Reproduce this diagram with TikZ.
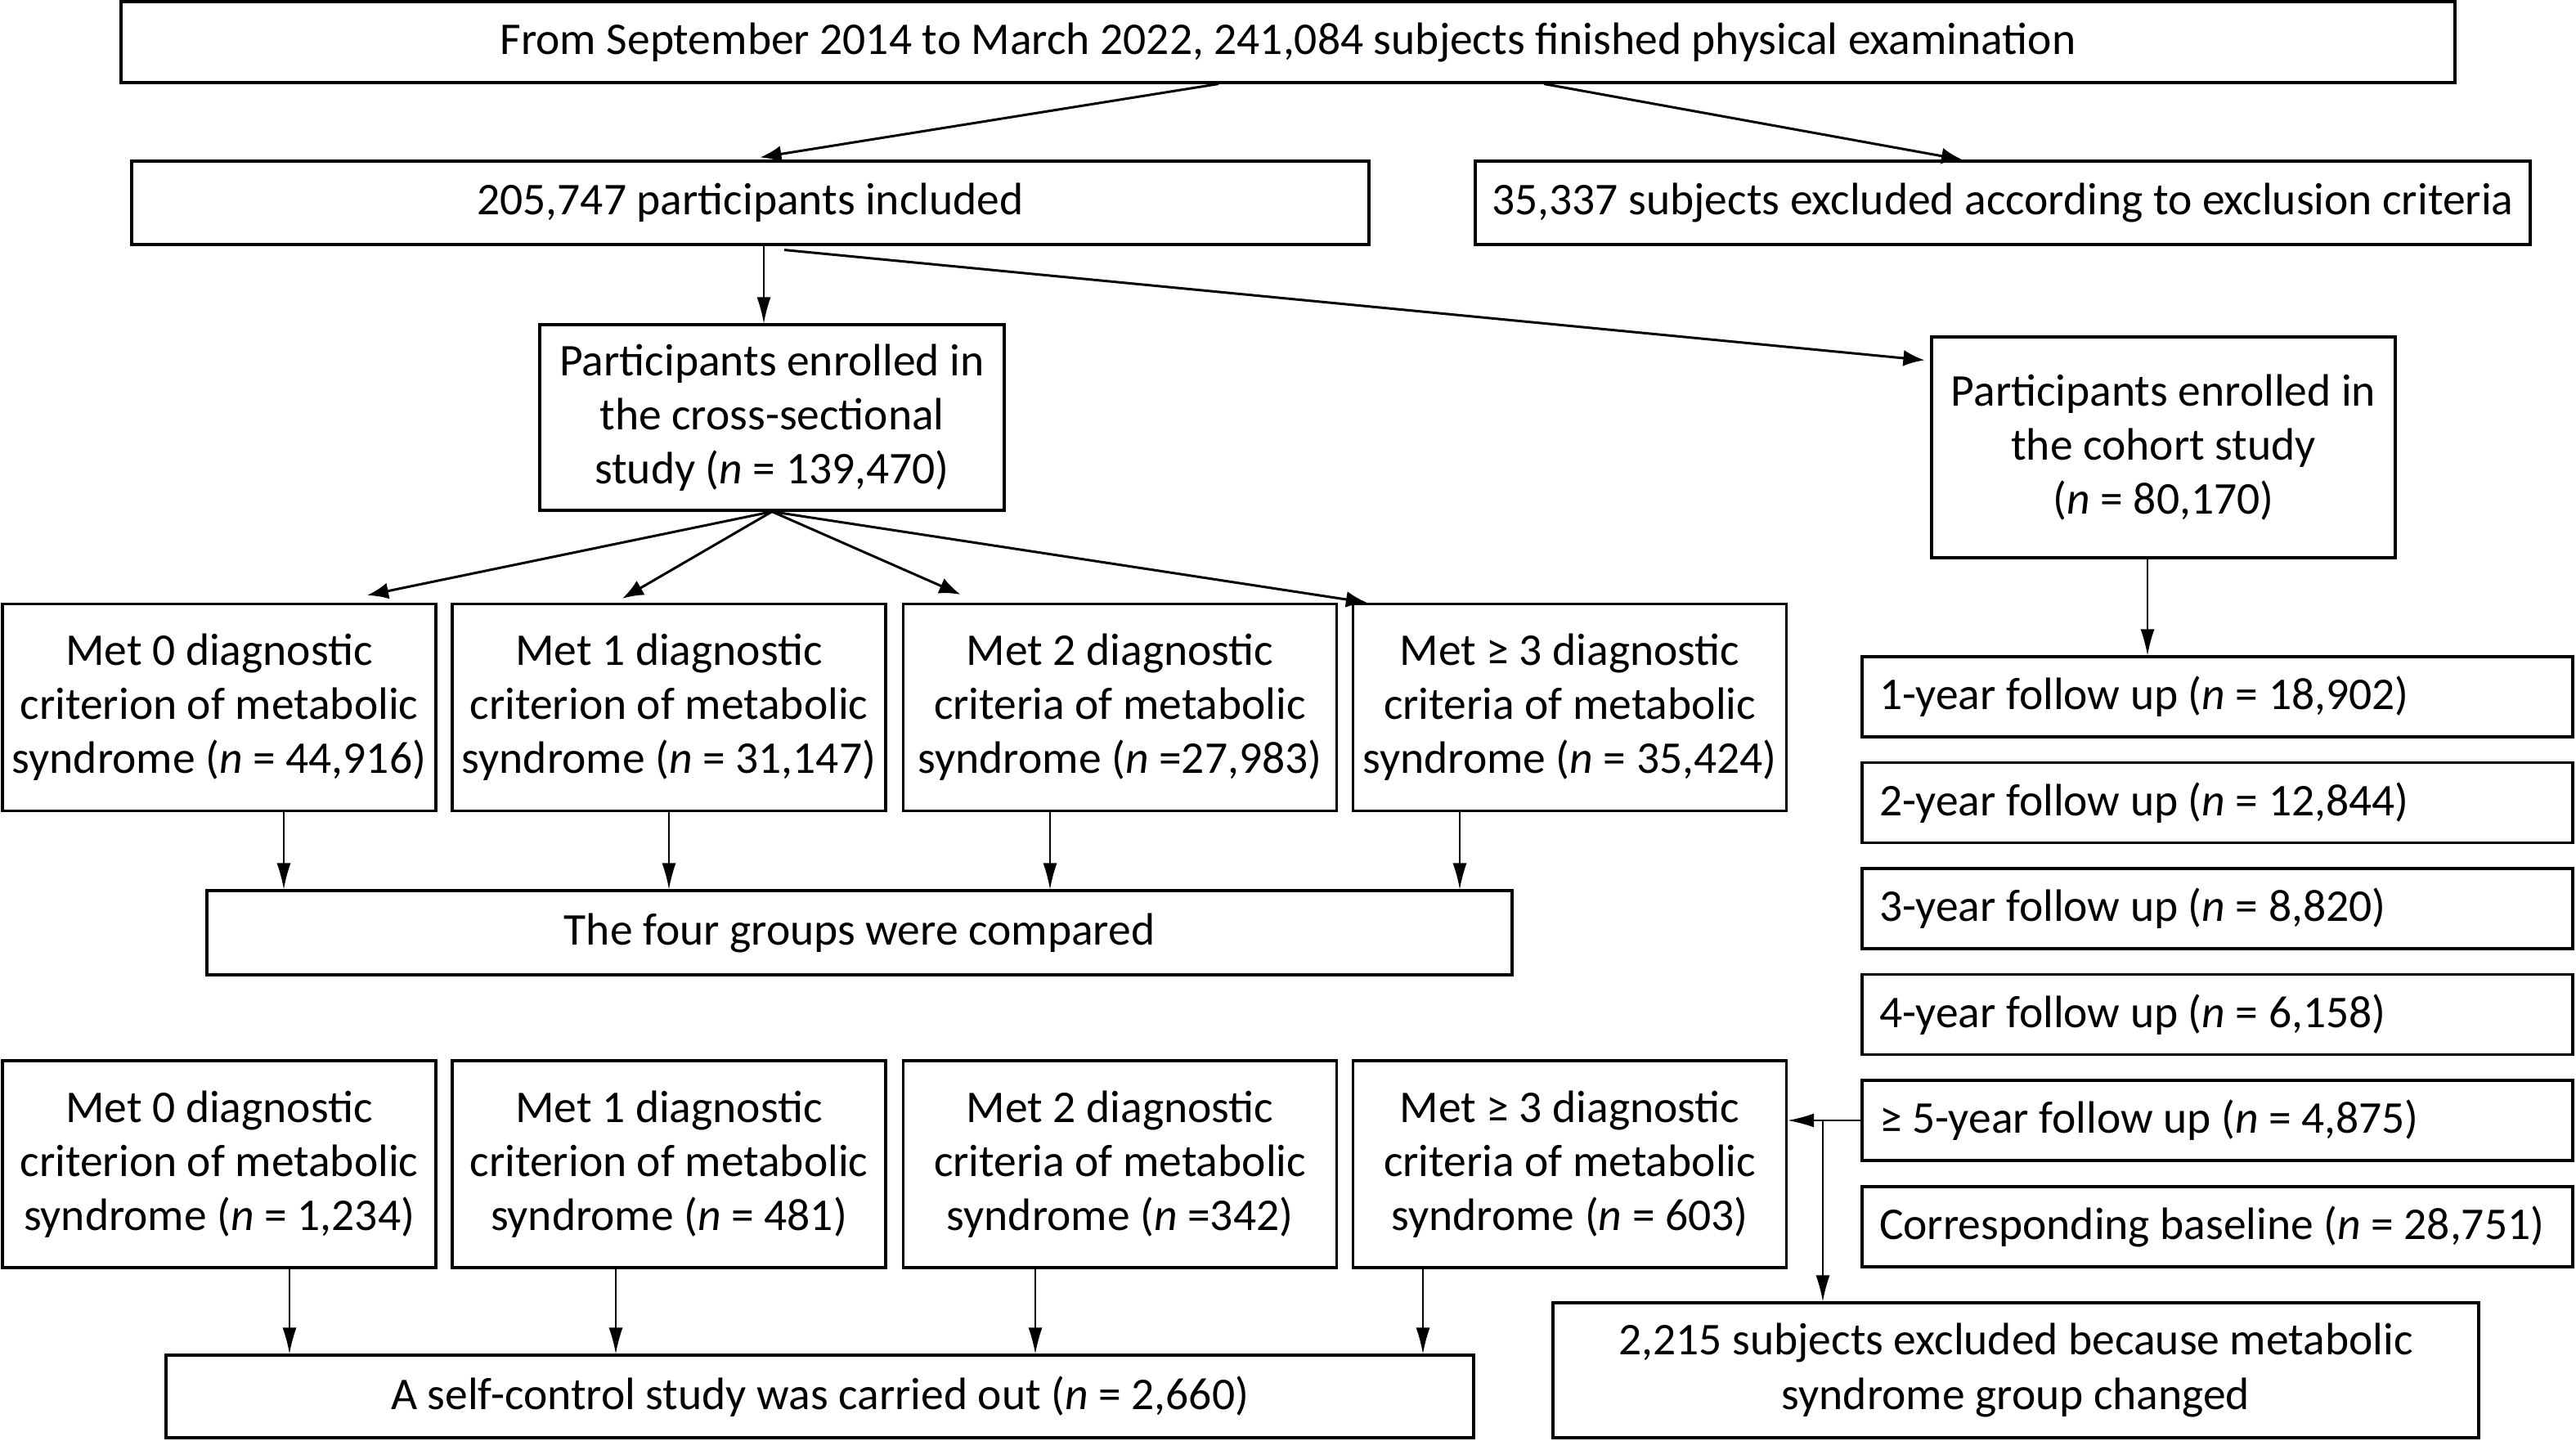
\documentclass[tikz,border=0pt]{standalone}
\usepackage{fontspec}
\setmainfont{Carlito}
\usetikzlibrary{arrows.meta,calc}
\begin{document}
\begin{tikzpicture}[
	box/.style={draw,line width=0.9pt,align=center,inner sep=0pt,font=\fontsize{15.8}{18.8}\selectfont},
	grp/.style={box,minimum width=5.3cm,minimum height=2.53cm},
	fup/.style={box,align=flush left,inner xsep=0.21cm,text width=8.27cm,minimum height=0.98cm},
	arr/.style={line width=0.85pt,-{Latex[length=0.26cm,width=0.2cm]}},
	vline/.style={line width=0.45pt,-{Latex[length=0.32cm,width=0.17cm]}}]
	\useasboundingbox (0,0) rectangle (31.5,-17.61);
	% screening
	\node[box,minimum width=28.54cm,minimum height=0.99cm](top) at (15.75,-0.515){From September 2014 to March 2022, 241,084 subjects finished physical examination};
	\node[box,minimum width=15.13cm,minimum height=1.02cm](incl) at (9.175,-2.48){205,747 participants included};
	\node[box,minimum width=12.9cm,minimum height=1.02cm](excl) at (24.49,-2.48){35,337 subjects excluded according to exclusion criteria};
	\node[box,minimum width=5.68cm,minimum height=2.27cm](cross) at (9.44,-5.105){Participants enrolled in\\the cross-sectional\\study (\textit{n} = 139,470)};
	\node[box,minimum width=5.67cm,minimum height=2.7cm](cohort) at (26.455,-5.47){Participants enrolled in\\the cohort study\\(\textit{n} = 80,170)};
	% cross-sectional groups
	\node[grp](ga) at (2.68,-8.65){Met 0 diagnostic\\criterion of metabolic\\syndrome (\textit{n} = 44,916)};
	\node[grp](gb) at (8.18,-8.65){Met 1 diagnostic\\criterion of metabolic\\syndrome (\textit{n} = 31,147)};
	\node[grp](gc) at (13.695,-8.65){Met 2 diagnostic\\criteria of metabolic\\syndrome (\textit{n} =27,983)};
	\node[grp](gd) at (19.195,-8.65){Met ≥ 3 diagnostic\\criteria of metabolic\\syndrome (\textit{n} = 35,424)};
	\node[box,minimum width=15.96cm,minimum height=1.03cm](comp) at (10.51,-11.405){The four groups were compared};
	% self-control groups
	\node[grp](sa) at (2.68,-14.235){Met 0 diagnostic\\criterion of metabolic\\syndrome (\textit{n} = 1,234)};
	\node[grp](sb) at (8.18,-14.235){Met 1 diagnostic\\criterion of metabolic\\syndrome (\textit{n} = 481)};
	\node[grp](sc) at (13.695,-14.235){Met 2 diagnostic\\criteria of metabolic\\syndrome (\textit{n} =342)};
	\node[grp](sd) at (19.195,-14.235){Met ≥ 3 diagnostic\\criteria of metabolic\\syndrome (\textit{n} = 603)};
	\node[box,minimum width=15.99cm,minimum height=1.01cm](self) at (10.025,-17.075){A self-control study was carried out (\textit{n} = 2,660)};
	% follow up
	\node[fup](fa) at (27.115,-8.52){1-year follow up (\textit{n} = 18,902)};
	\node[fup](fb) at (27.115,-9.815){2-year follow up (\textit{n} = 12,844)};
	\node[fup](fc) at (27.115,-11.11){3-year follow up (\textit{n} = 8,820)};
	\node[fup](fd) at (27.115,-12.405){4-year follow up (\textit{n} = 6,158)};
	\node[fup](fe) at (27.115,-13.7){≥ 5-year follow up (\textit{n} = 4,875)};
	\node[fup](ff) at (27.115,-15.0){Corresponding baseline (\textit{n} = 28,751)};
	\node[box,minimum width=11.32cm,minimum height=1.65cm](excl2) at (24.65,-16.755){2,215 subjects excluded because metabolic\\syndrome group changed};
	
	\draw[arr]([xshift=-0.85cm]top.south)--([xshift=0.12cm,yshift=0.03cm]incl.north);
	\draw[arr]([xshift=3.13cm]top.south)--([xshift=-0.49cm]excl.north);
	\draw[vline]([xshift=-0.1cm]cross.north|-incl.south)--([xshift=-0.1cm]cross.north);
	\draw[arr]([xshift=0.415cm,yshift=-0.05cm]incl.south)--([xshift=-0.07cm,yshift=-0.3cm]cohort.north west);
	\draw[arr](cross.south)--([xshift=1.81cm,yshift=0.09cm]ga.north);
	\draw[arr](cross.south)--([xshift=-0.57cm,yshift=0.05cm]gb.north);
	\draw[arr](cross.south)--([xshift=-1.95cm,yshift=0.1cm]gc.north);
	\draw[arr](cross.south)--([xshift=0.19cm]gd.north west);
	\draw[vline]([xshift=0.79cm]ga.south)--([xshift=0.79cm]ga.south|-comp.north);
	\draw[vline](gb.south)--(gb.south|-comp.north);
	\draw[vline]([xshift=-0.855cm]gc.south)--([xshift=-0.855cm]gc.south|-comp.north);
	\draw[vline]([xshift=-1.345cm]gd.south)--([xshift=-1.345cm]gd.south|-comp.north);
	\draw[vline]([xshift=0.86cm]sa.south)--([xshift=0.86cm]sa.south|-self.north);
	\draw[vline]([xshift=-0.65cm]sb.south)--([xshift=-0.65cm]sb.south|-self.north);
	\draw[vline]([xshift=-1.035cm]sc.south)--([xshift=-1.035cm]sc.south|-self.north);
	\draw[vline]([xshift=-1.795cm]sd.south)--([xshift=-1.795cm]sd.south|-self.north);
	\draw[vline]([xshift=-0.195cm]cohort.south)--([xshift=-0.195cm]cohort.south|-fa.north);
	\draw[vline](fe.west)--(fe.west-|sd.east);
	\coordinate(jn) at ($(fe.west)!0.52!(fe.west-|sd.east)$);
	\draw[vline](jn)--(jn|-excl2.north);
	
\end{tikzpicture}
\end{document}
